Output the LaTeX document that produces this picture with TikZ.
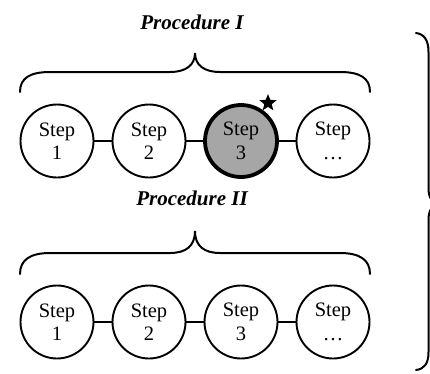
\documentclass[tikz,border=0pt]{standalone}
\usepackage{fontspec}
\setmainfont{Liberation Serif}
\usetikzlibrary{shapes.geometric}
\definecolor{stepgray}{RGB}{166,166,166}
\tikzset{
  x=1pt, y=-1pt,
  stepnode/.style={circle, draw, line width=1.9pt, minimum size=73pt, inner sep=0pt,
    align=center, font=\fontsize{20.5}{23.5}\selectfont},
  activestep/.style={stepnode, fill=stepgray, line width=3.8pt, minimum size=72pt},
  link/.style={line width=1.9pt},
  bracepath/.style={line width=2pt, line cap=round},
  proclabel/.style={font=\fontsize{21}{24}\selectfont\bfseries\itshape, inner sep=0pt},
  mark star/.style={star, star points=5, star point ratio=2.3, fill=black, draw=none,
    minimum size=18pt, inner sep=0pt}
}
\begin{document}
\begin{tikzpicture}
\clip (0,0) rectangle (430,373);

% Procedure I
\node[proclabel] (p1) at (192,22) {Procedure I};
\draw[bracepath] (20,92) .. controls (20,78) and (30,72) .. (50,72) -- (170,72)
  .. controls (186,72) and (195,65) .. (195,53)
  .. controls (195,65) and (204,72) .. (220,72) -- (340,72)
  .. controls (360,72) and (370,78) .. (370,92);
\node[stepnode]   (a1) at (57,141)  {Step\\1};
\node[stepnode]   (a2) at (149,141) {Step\\2};
\node[activestep] (a3) at (241,141) {Step\\3};
\node[stepnode]   (a4) at (333,141) {Step\\…};
\draw[link] (a1) -- (a2);
\draw[link] (a2) -- (a3);
\draw[link] (a3) -- (a4);
\node[mark star] (s3) at (268,103) {};

% Procedure II
\node[proclabel] (p2) at (192,198) {Procedure II};
\draw[bracepath] (20,274) .. controls (20,260) and (30,253) .. (50,253) -- (170,253)
  .. controls (186,253) and (195,246) .. (195,231)
  .. controls (195,246) and (204,253) .. (220,253) -- (340,253)
  .. controls (360,253) and (370,260) .. (370,274);
\node[stepnode] (b1) at (57,322)  {Step\\1};
\node[stepnode] (b2) at (149,322) {Step\\2};
\node[stepnode] (b3) at (241,322) {Step\\3};
\node[stepnode] (b4) at (333,322) {Step\\…};
\draw[link] (b1) -- (b2);
\draw[link] (b2) -- (b3);
\draw[link] (b3) -- (b4);

% brace grouping both procedures
\draw[bracepath] (416,33) .. controls (424,34) and (428.5,40) .. (428.5,52) -- (428.5,188)
  .. controls (428.5,198) and (432,204) .. (442,204)
  .. controls (432,204) and (428.5,210) .. (428.5,220) -- (428.5,352)
  .. controls (428.5,364) and (424,369) .. (416,370);
\end{tikzpicture}
\end{document}
